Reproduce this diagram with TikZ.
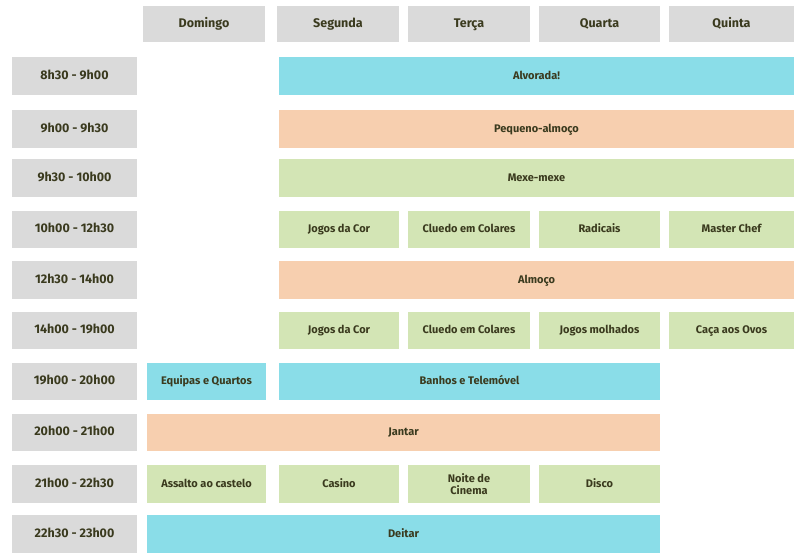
\documentclass[tikz,border=0pt]{standalone}
\usepackage{fontspec}
\setmainfont{Fira Sans}
\definecolor{cy}{HTML}{8ADDE8}
\definecolor{pe}{HTML}{F7CFAF}
\definecolor{gr}{HTML}{D3E5B5}
\definecolor{gy}{HTML}{DADADA}
\definecolor{tx}{HTML}{3A3A1E}
\begin{document}
\begin{tikzpicture}[x=1pt,y=-1pt,
  cell/.style={inner sep=0pt,text=tx,font=\fontsize{11}{11.5}\selectfont\bfseries,align=center,text height=1.5ex,text depth=.25ex},
  hd/.style={cell,font=\fontsize{12.5}{13}\selectfont\bfseries},
  tm/.style={cell,font=\fontsize{12.5}{13}\selectfont\bfseries}]
\useasboundingbox (0,0) rectangle (800,559);
\fill[white] (0,0) rectangle (800,559);
\newcommand{\bxn}[8]{\fill[#5] (#1,#2) rectangle (#3,#4); \node[#8] (#6) at ({(#1+#3)/2},{(#2+#4)/2}) {#7};}
% headers
\bxn{143}{6}{265}{42}{gy}{h1}{Domingo}{hd}
\bxn{277}{6}{399}{42}{gy}{h2}{Segunda}{hd}
\bxn{408}{6}{530}{42}{gy}{h3}{Terça}{hd}
\bxn{539}{6}{660}{42}{gy}{h4}{Quarta}{hd}
\bxn{669}{6}{794}{42}{gy}{h5}{Quinta}{hd}
% times
\bxn{12}{57}{137}{95}{gy}{t1}{8h30 - 9h00}{tm}
\bxn{12}{110}{137}{148}{gy}{t2}{9h00 - 9h30}{tm}
\bxn{12}{159}{137}{197}{gy}{t3}{9h30 - 10h00}{tm}
\bxn{12}{211}{137}{248}{gy}{t4}{10h00 - 12h30}{tm}
\bxn{12}{261}{137}{299}{gy}{t5}{12h30 - 14h00}{tm}
\bxn{12}{312}{137}{349}{gy}{t6}{14h00 - 19h00}{tm}
\bxn{12}{363}{137}{400}{gy}{t7}{19h00 - 20h00}{tm}
\bxn{12}{414}{137}{451}{gy}{t8}{20h00 - 21h00}{tm}
\bxn{12}{465}{137}{503}{gy}{t9}{21h00 - 22h30}{tm}
\bxn{12}{515}{137}{553}{gy}{t10}{22h30 - 23h00}{tm}
% events
\bxn{279}{57}{794}{95}{cy}{e1}{Alvorada!}{cell}
\bxn{279}{110}{794}{148}{pe}{e2}{Pequeno-almoço}{cell}
\bxn{279}{159}{794}{197}{gr}{e3}{Mexe-mexe}{cell}
\bxn{279}{211}{399}{248}{gr}{e4a}{Jogos da Cor}{cell}
\bxn{408}{211}{530}{248}{gr}{e4b}{Cluedo em Colares}{cell}
\bxn{539}{211}{660}{248}{gr}{e4c}{Radicais}{cell}
\bxn{669}{211}{794}{248}{gr}{e4d}{Master Chef}{cell}
\bxn{279}{261}{794}{299}{pe}{e5}{Almoço}{cell}
\bxn{279}{312}{399}{349}{gr}{e6a}{Jogos da Cor}{cell}
\bxn{408}{312}{530}{349}{gr}{e6b}{Cluedo em Colares}{cell}
\bxn{539}{312}{660}{349}{gr}{e6c}{Jogos molhados}{cell}
\bxn{669}{312}{794}{349}{gr}{e6d}{Caça aos Ovos}{cell}
\bxn{147}{363}{266}{400}{cy}{e7a}{Equipas e Quartos}{cell}
\bxn{279}{363}{660}{400}{cy}{e7b}{Banhos e Telemóvel}{cell}
\bxn{147}{414}{660}{451}{pe}{e8}{Jantar}{cell}
\bxn{147}{465}{266}{503}{gr}{e9a}{Assalto ao castelo}{cell}
\bxn{279}{465}{399}{503}{gr}{e9b}{Casino}{cell}
\bxn{408}{465}{530}{503}{gr}{e9c}{Noite de\\Cinema}{cell,text height=,text depth=}
\bxn{539}{465}{660}{503}{gr}{e9d}{Disco}{cell}
\bxn{147}{515}{660}{553}{cy}{e10}{Deitar}{cell}
\end{tikzpicture}
\end{document}
